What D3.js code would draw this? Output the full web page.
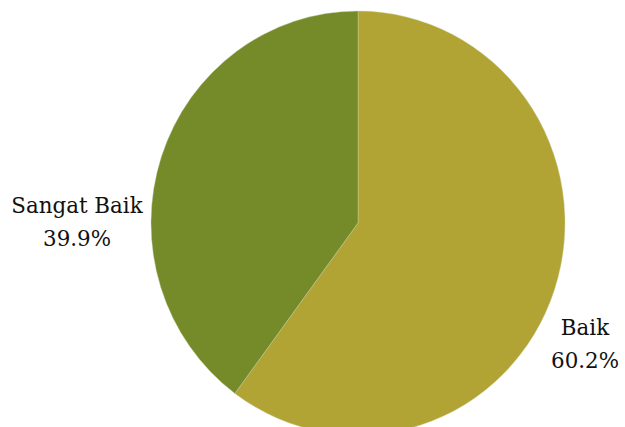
<!DOCTYPE html>
<html>
<head>
<meta charset="utf-8">
<script src="https://cdn.jsdelivr.net/npm/d3@7/dist/d3.min.js"></script>
<style>
  html, body { margin: 0; padding: 0; background: #ffffff; }
  svg { display: block; }
  text { font-family: "DejaVu Serif", serif; fill: #111111; }
</style>
</head>
<body>
<svg id="chart" width="625" height="427"></svg>
<script>
// Survey result shares (percent)
const categories = ["Baik", "Sangat Baik"];
const values = [60.2, 39.9];
const valueLabels = ["60.2%", "39.9%"];
const colors = ["#b2a434", "#758a29"];

const width = 625, height = 427;
const cx = 358, cy = 223, radius = 207, radiusY = 212;

const svg = d3.select("#chart");

const pie = d3.pie().sort(null).value(d => d.value).startAngle(0).endAngle(2 * Math.PI);
const slices = pie(categories.map((c, i) => ({ name: c, value: values[i], label: valueLabels[i], color: colors[i] })));

const arc = d3.arc().innerRadius(0).outerRadius(radius);

// The pie is drawn slightly taller than wide
const g = svg.append("g")
  .attr("transform", `translate(${cx},${cy}) scale(1,${radiusY / radius})`);

g.selectAll("path.slice")
  .data(slices)
  .join("path")
  .attr("class", "slice")
  .attr("d", arc)
  .attr("fill", d => d.data.color)
  .attr("stroke", "#c9d6b0")
  .attr("stroke-width", 0.4);

// Label anchor offsets from the pie centre (best-fit outside placement)
const labelOffsets = { "Baik": [227, 112], "Sangat Baik": [-281, -10] };
const lineGap = 33;

const labels = svg.selectAll("text.lbl")
  .data(slices)
  .join("text")
  .attr("class", "lbl")
  .attr("text-anchor", "middle")
  .attr("font-size", 21.4)
  .attr("x", d => cx + labelOffsets[d.data.name][0])
  .attr("y", d => cy + labelOffsets[d.data.name][1]);

labels.append("tspan")
  .attr("x", d => cx + labelOffsets[d.data.name][0])
  .text(d => d.data.name);
labels.append("tspan")
  .attr("x", d => cx + labelOffsets[d.data.name][0])
  .attr("dy", lineGap)
  .text(d => d.data.label);
</script>
</body>
</html>
